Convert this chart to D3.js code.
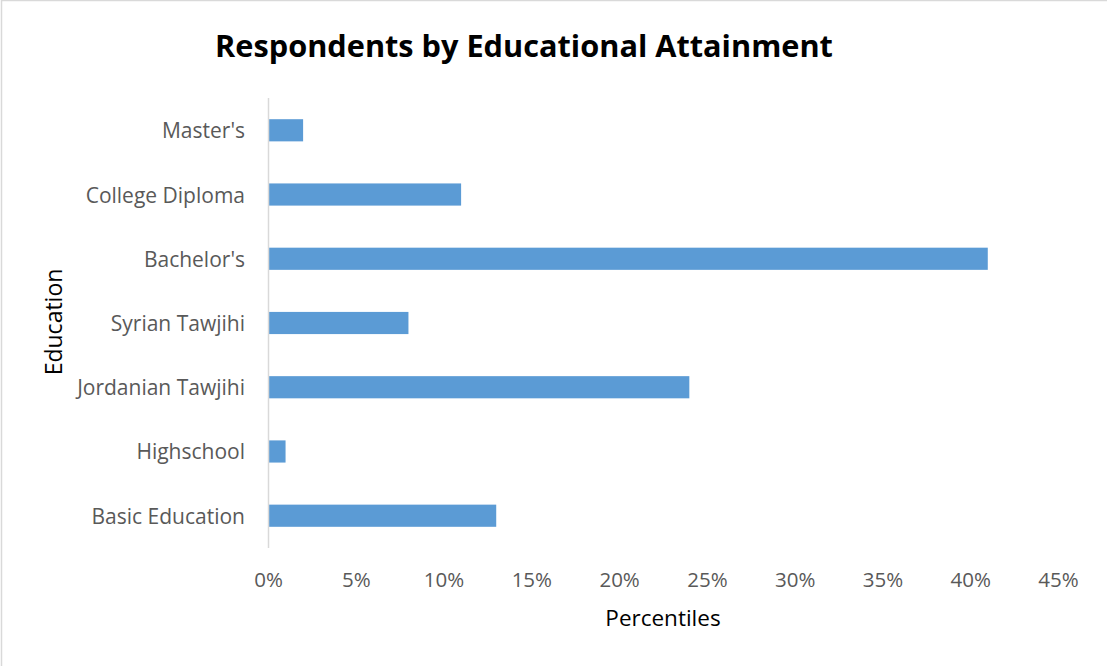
<!DOCTYPE html>
<html>
<head>
<meta charset="utf-8"/>
<script src="https://d3js.org/d3.v7.min.js"></script>
<style>
  body { margin: 0; background: #fff; }
  text { font-family: "Open Sans", "Noto Sans", sans-serif; }
</style>
</head>
<body>
<div id="output"></div>
<script>
// Chart data
var categories = ["Master's", "College Diploma", "Bachelor's", "Syrian Tawjihi",
                  "Jordanian Tawjihi", "Highschool", "Basic Education"];
var percents = [2, 11, 41, 8, 24, 1, 13];
var tickValues = [0, 5, 10, 15, 20, 25, 30, 35, 40, 45];

var W = 1107, H = 666;
var margin = {top: 98, right: 49, bottom: 118, left: 268};
var width = W - margin.left - margin.right,
    height = H - margin.top - margin.bottom;

var svg = d3.select("#output").append("svg")
    .attr("width", W)
    .attr("height", H);

// chart border (only left and top edges show in the picture)
svg.append("path")
    .attr("d", "M1.5," + H + "V0.5H" + W)
    .attr("fill", "none")
    .attr("stroke", "#d9d9d9")
    .attr("stroke-width", 1.5);

var g = svg.append("g")
    .attr("transform", "translate(" + margin.left + "," + margin.top + ")");

var x = d3.scaleLinear().domain([0, 45]).range([0, width]);
var y = d3.scaleBand().domain(categories).range([0, height])
    .paddingInner(0.655).paddingOuter(0.33);

// bars
g.selectAll("rect.bar")
    .data(categories)
    .enter()
    .append("rect")
    .attr("class", "bar")
    .attr("x", x(0))
    .attr("y", function(d) { return y(d); })
    .attr("width", function(d, i) { return x(percents[i]) - x(0); })
    .attr("height", y.bandwidth())
    .attr("fill", "#5b9bd5");

// vertical axis line
g.append("line")
    .attr("x1", 0.5).attr("x2", 0.5)
    .attr("y1", 0).attr("y2", height)
    .attr("stroke", "#d9d9d9")
    .attr("stroke-width", 1.5);

// y category labels
var yAxis = g.append("g")
    .call(d3.axisLeft(y).tickSize(0).tickPadding(23));
yAxis.select(".domain").remove();
yAxis.selectAll("text")
    .attr("dy", "0.38em")
    .attr("fill", "#595959")
    .style("font-size", "21px");

// x tick labels
var xAxis = g.append("g")
    .attr("transform", "translate(0," + height + ")")
    .call(d3.axisBottom(x).tickValues(tickValues).tickSize(0).tickPadding(0)
        .tickFormat(function(d) { return d + "%"; }));
xAxis.select(".domain").remove();
xAxis.selectAll("text")
    .attr("y", 39)
    .attr("dy", null)
    .attr("fill", "#595959")
    .style("font-size", "20.5px");

// title
svg.append("text")
    .attr("x", 524)
    .attr("y", 57)
    .attr("text-anchor", "middle")
    .style("font-size", "30.7px")
    .style("font-weight", "bold")
    .attr("fill", "#000")
    .text("Respondents by Educational Attainment");

// x axis title
svg.append("text")
    .attr("x", 663)
    .attr("y", 626)
    .attr("text-anchor", "middle")
    .style("font-size", "22.5px")
    .attr("fill", "#000")
    .text("Percentiles");

// y axis title
svg.append("text")
    .attr("transform", "translate(62,322) rotate(-90)")
    .attr("text-anchor", "middle")
    .style("font-size", "23px")
    .attr("fill", "#000")
    .text("Education");
</script>
</body>
</html>
